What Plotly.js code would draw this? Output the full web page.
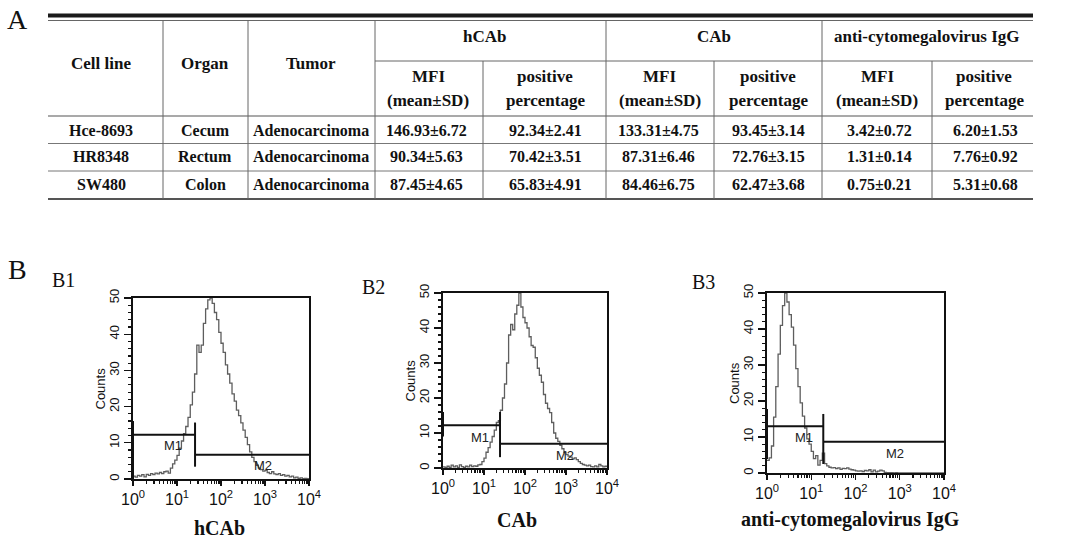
<!DOCTYPE html>
<html>
<head>
<meta charset="utf-8">
<script src="https://cdn.plot.ly/plotly-3.0.1.min.js"></script>
<style>
  html, body { margin: 0; padding: 0; background: #fff; }
  #chart { width: 1072px; height: 545px; }
</style>
</head>
<body>
<div id="chart"></div>
<script>
// ---- table data (part A) ----
const cellLines = ['Hce-8693', 'HR8348', 'SW480'];
const organs = ['Cecum', 'Rectum', 'Colon'];
const tumors = ['Adenocarcinoma', 'Adenocarcinoma', 'Adenocarcinoma'];
const hcabMfi = ['146.93±6.72', '90.34±5.63', '87.45±4.65'];
const hcabPos = ['92.34±2.41', '70.42±3.51', '65.83±4.91'];
const cabMfi = ['133.31±4.75', '87.31±6.46', '84.46±6.75'];
const cabPos = ['93.45±3.14', '72.76±3.15', '62.47±3.68'];
const iggMfi = ['3.42±0.72', '1.31±0.14', '0.75±0.21'];
const iggPos = ['6.20±1.53', '7.76±0.92', '5.31±0.68'];
const groupHeads = ['hCAb', 'CAb', 'anti-cytomegalovirus IgG'];

// ---- histogram data (part B) ----
const channels = [
  1, 1.12, 1.26, 1.41, 1.58, 1.78, 2, 2.24, 2.51, 2.82, 3.16, 3.55, 3.98, 4.47, 5.01, 5.62, 6.31, 7.08, 7.94, 8.91,
  10, 11.2, 12.6, 14.1, 15.8, 17.8, 20, 22.4, 25.1, 28.2, 31.6, 35.5, 39.8, 44.7, 50.1, 56.2, 63.1, 70.8, 79.4, 89.1,
  100, 112, 126, 141, 158, 178, 200, 224, 251, 282, 316, 355, 398, 447, 501, 562, 631, 708, 794, 891,
  1000, 1122, 1259, 1413, 1585, 1778, 1995, 2239, 2512, 2818, 3162, 3548, 3981, 4467, 5012, 5623, 6310, 7079, 7943, 8913, 10000
];
const b1Counts = [
  0.8, 0.5, 1.0, 0.8, 1.2, 0.6, 1.3, 1.0, 1.5, 1.2, 1.6, 1.4, 1.8, 1.5, 2.0, 2.2, 1.6, 3.0, 4.2, 5.2,
  6.5, 8.5, 10.5, 12.5, 14.5, 17, 20.5, 24, 29, 37, 35, 37, 43, 47, 49.5, 50, 48.5, 46, 44, 40.5,
  37.5, 35, 31.5, 29, 26.5, 23.5, 21.5, 19, 17.5, 15.5, 13.5, 11.5, 9.5, 7.5, 6, 4.8, 3.8, 3.0, 2.6, 2.2,
  2.4, 1.8, 1.5, 2.0, 1.4, 1.2, 1.5, 1.0, 1.2, 0.8, 1.0, 0.6, 0.8, 0.3, 0.5, 0.2, 0.3, 0.1, 0.2, 0.1, 0
];
const b2Counts = [
  0.3, 0.2, 0.5, 0.2, 0.8, 0.3, 0.6, 0.2, 0.9, 0.4, 0.2, 0.5, 0.3, 0.8, 0.4, 0.6, 0.5, 0.9, 1.0, 1.8,
  2.8, 4.5, 5.8, 7.4, 9, 10.8, 13, 13.5, 16.5, 20, 24, 30, 38, 41, 39.5, 44, 46.5, 50, 46, 43,
  41.5, 40, 37.5, 35, 34.5, 31.5, 28.5, 26.5, 24.5, 21, 18.5, 17, 15.8, 13, 10, 8.5, 7.6, 6.5, 5.5, 4.5,
  3.8, 3.4, 3.1, 2.6, 2.9, 2.4, 1.8, 1.3, 1.0, 0.8, 0.6, 0.8, 0.4, 0.3, 0.6, 0.3, 1.0, 0.6, 0.3, 0.5, 0.2
];
const b3Counts = [
  3.5, 4.2, 7.5, 15.5, 24, 33, 41, 46.5, 50, 47.5, 44, 40.5, 35.5, 29, 24, 19.5, 15.8, 12.5, 9.5, 8,
  6, 4, 4.8, 2.2, 3.5, 5.5, 2.6, 2.0, 1.6, 1.4, 1.5, 1.2, 1.4, 1.0, 1.3, 1.2, 1.4, 1.1, 0.9, 0.8,
  0.6, 0.5, 0.6, 0.4, 0.7, 0.6, 0.9, 0.3, 0.8, 0.3, 0.5, 0.8, 0.6, 0.2, 0.1, 0.1, 0.1, 0, 0.1, 0,
  0, 0, 0, 0, 0, 0, 0, 0, 0, 0, 0, 0, 0, 0, 0, 0, 0, 0, 0, 0, 0
];
const panelCounts = [b1Counts, b2Counts, b3Counts];

// marker gates M1 / M2
const gateSplit = [25.7, 24.6, 18.7];
const m1Level = [12.2, 12.2, 13.0];
const m2Level = [6.7, 6.9, 8.7];
const m1StartTick = [[0, 16], [9, 16], [3.9, 17.8]];
const splitTick = [[3.4, 15.6], [3.1, 16], [2.5, 16.4]];
const m1LabelAt = [[8, 9.3], [8.1, 8.8], [7, 10]];
const m2LabelAt = [[920, 3.7], [930, 3.6], [800, 5.3]];

const xTickVals = [1, 10, 100, 1000, 10000];
const xTickText = ['10<sup>0</sup>', '10<sup>1</sup>', '10<sup>2</sup>', '10<sup>3</sup>', '10<sup>4</sup>'];
const yTickVals = [0, 10, 20, 30, 40, 50];
const panelNames = ['B1', 'B2', 'B3'];

// ---- page geometry (pixels) ----
const W = 1072, H = 545;
const px = x => x / W;
const py = y => 1 - y / H;

const SERIF = 'Liberation Serif, Times New Roman, serif';
const SANS = 'Liberation Sans, Arial, sans-serif';

// plot boxes [left, right, top, bottom]
const boxes = [[133, 309, 298, 479], [443, 607, 293, 468], [767, 944, 293, 473]];
const xTitleAt = [[219, 528], [517, 520], [850, 519]];
const panelLabelAt = [[63, 280], [373, 287], [703, 282]];

const data = [];
const layout = {
  width: W, height: H,
  margin: { l: 0, r: 0, t: 0, b: 0 },
  paper_bgcolor: '#fff', plot_bgcolor: '#fff',
  showlegend: false,
  shapes: [], annotations: []
};

// centred text in page pixels
const note = (x, y, text, font, extra) => Object.assign({
  xref: 'paper', yref: 'paper', x: px(x), y: py(y), xanchor: 'center', yanchor: 'middle',
  text: text, showarrow: false, font: font
}, extra || {});

panelCounts.forEach((counts, i) => {
  const sfx = i === 0 ? '' : String(i + 1);
  const b = boxes[i];
  data.push({
    x: channels, y: counts, xaxis: 'x' + sfx, yaxis: 'y' + sfx,
    type: 'scatter', mode: 'lines', line: { color: '#5e5e5e', width: 1.3, shape: 'hv' },
    hoverinfo: 'skip'
  });
  const s = gateSplit[i];
  data.push({
    x: [1, 1, null, 1, s, null, s, s, null, s, 10000],
    y: [m1StartTick[i][0], m1StartTick[i][1], null, m1Level[i], m1Level[i], null,
        splitTick[i][0], splitTick[i][1], null, m2Level[i], m2Level[i]],
    xaxis: 'x' + sfx, yaxis: 'y' + sfx,
    type: 'scatter', mode: 'lines', line: { color: '#111', width: 2 }, hoverinfo: 'skip'
  });

  layout['xaxis' + sfx] = {
    domain: [px(b[0]), px(b[1])], anchor: 'y' + sfx, type: 'log', range: [0, 4],
    tickmode: 'array', tickvals: xTickVals, ticktext: xTickText,
    ticks: 'outside', ticklen: 5, tickwidth: 1.4, tickcolor: '#111',
    minor: { dtick: 'D1', ticks: 'outside', ticklen: 3, tickwidth: 1.2, tickcolor: '#111', showgrid: false },
    showline: true, linecolor: '#111', linewidth: 1.6, mirror: true,
    showgrid: false, zeroline: false, fixedrange: true,
    tickfont: { family: SANS, size: 16, color: '#111' }
  };
  layout['yaxis' + sfx] = {
    domain: [py(b[3]), py(b[2])], anchor: 'x' + sfx, range: [0, 50],
    tickmode: 'array', tickvals: yTickVals, tickangle: -90,
    ticks: 'outside', ticklen: 7, tickwidth: 1.4, tickcolor: '#111',
    minor: { dtick: 2, ticks: 'outside', ticklen: 3, tickwidth: 1.2, tickcolor: '#111', showgrid: false },
    showline: true, linecolor: '#111', linewidth: 1.6, mirror: true,
    showgrid: false, zeroline: false, fixedrange: true,
    tickfont: { family: SANS, size: 13, color: '#111' }
  };

  const mFont = { family: SANS, size: 13, color: '#222' };
  layout.annotations.push(
    { xref: 'x' + sfx, yref: 'y' + sfx, x: Math.log10(m1LabelAt[i][0]), y: m1LabelAt[i][1], xanchor: 'center', yanchor: 'middle', text: 'M1', showarrow: false, font: mFont },
    { xref: 'x' + sfx, yref: 'y' + sfx, x: Math.log10(m2LabelAt[i][0]), y: m2LabelAt[i][1], xanchor: 'center', yanchor: 'middle', text: 'M2', showarrow: false, font: mFont },
    note(b[0] - 33, (b[2] + b[3]) / 2, 'Counts', { family: SANS, size: 13, color: '#111' }, { textangle: -90 }),
    note(xTitleAt[i][0], xTitleAt[i][1], '<b>' + groupHeads[i] + '</b>', { family: SERIF, size: 20, color: '#111' }),
    note(panelLabelAt[i][0], panelLabelAt[i][1], panelNames[i], { family: SERIF, size: 20, color: '#111' })
  );
});

// ---- table (part A) drawn with shapes + annotations ----
const T = { left: 48, right: 1033 };
const hl = (x0, x1, y, w, c) => ({ type: 'line', xref: 'paper', yref: 'paper', x0: px(x0), x1: px(x1), y0: py(y), y1: py(y), line: { color: c, width: w } });
const vl = (x, y0, y1) => ({ type: 'line', xref: 'paper', yref: 'paper', x0: px(x), x1: px(x), y0: py(y0), y1: py(y1), line: { color: '#666', width: 1 } });

layout.shapes.push(
  { type: 'rect', xref: 'paper', yref: 'paper', x0: px(T.left), x1: px(T.right), y0: py(17.5), y1: py(13.5), fillcolor: '#1a1a1a', line: { width: 0 } },
  hl(T.left, T.right, 20.5, 1, '#666'),
  hl(375, T.right, 61, 1, '#666'),
  hl(T.left, T.right, 116, 1.2, '#555'),
  hl(T.left, T.right, 143.5, 1, '#777'),
  hl(T.left, T.right, 171, 1, '#777'),
  hl(T.left, T.right, 199, 2, '#555')
);
[163, 248, 375, 606, 822].forEach(x => layout.shapes.push(vl(x, 20.5, 199)));
[483, 714, 932].forEach(x => layout.shapes.push(vl(x, 61, 199)));

const headFont = { family: SERIF, size: 17, color: '#111' };
const cellFont = { family: SERIF, size: 16, color: '#111' };
const txt = (x, y, t, f) => note(x, y, '<b>' + t + '</b>', f);

layout.annotations.push(
  txt(101, 63, 'Cell line', headFont),
  txt(205, 63, 'Organ', headFont),
  txt(311, 63, 'Tumor', headFont),
  txt(484, 37, groupHeads[0], headFont),
  txt(714, 37, groupHeads[1], headFont),
  txt(927, 37, groupHeads[2], headFont)
);
const subCols = [[428, 545], [660, 768], [877, 984]];
subCols.forEach(([mx, ppx]) => {
  layout.annotations.push(
    txt(mx, 77, 'MFI', headFont), txt(mx, 101, '(mean±SD)', headFont),
    txt(ppx, 77, 'positive', headFont), txt(ppx, 101, 'percentage', headFont)
  );
});

const rowY = [130, 157, 185];
const bodyCols = [[101, cellLines], [205, organs], [311, tumors], [426, hcabMfi], [545, hcabPos],
                  [658, cabMfi], [768, cabPos], [879, iggMfi], [985, iggPos]];
bodyCols.forEach(([x, vals]) => {
  vals.forEach((v, r) => layout.annotations.push(txt(x, rowY[r], v, cellFont)));
});

// panel letters
layout.annotations.push(
  note(17, 19, 'A', { family: SERIF, size: 28, color: '#111' }),
  note(17, 269, 'B', { family: SERIF, size: 28, color: '#111' })
);

Plotly.newPlot('chart', data, layout, { displayModeBar: false, staticPlot: true });
</script>
</body>
</html>
